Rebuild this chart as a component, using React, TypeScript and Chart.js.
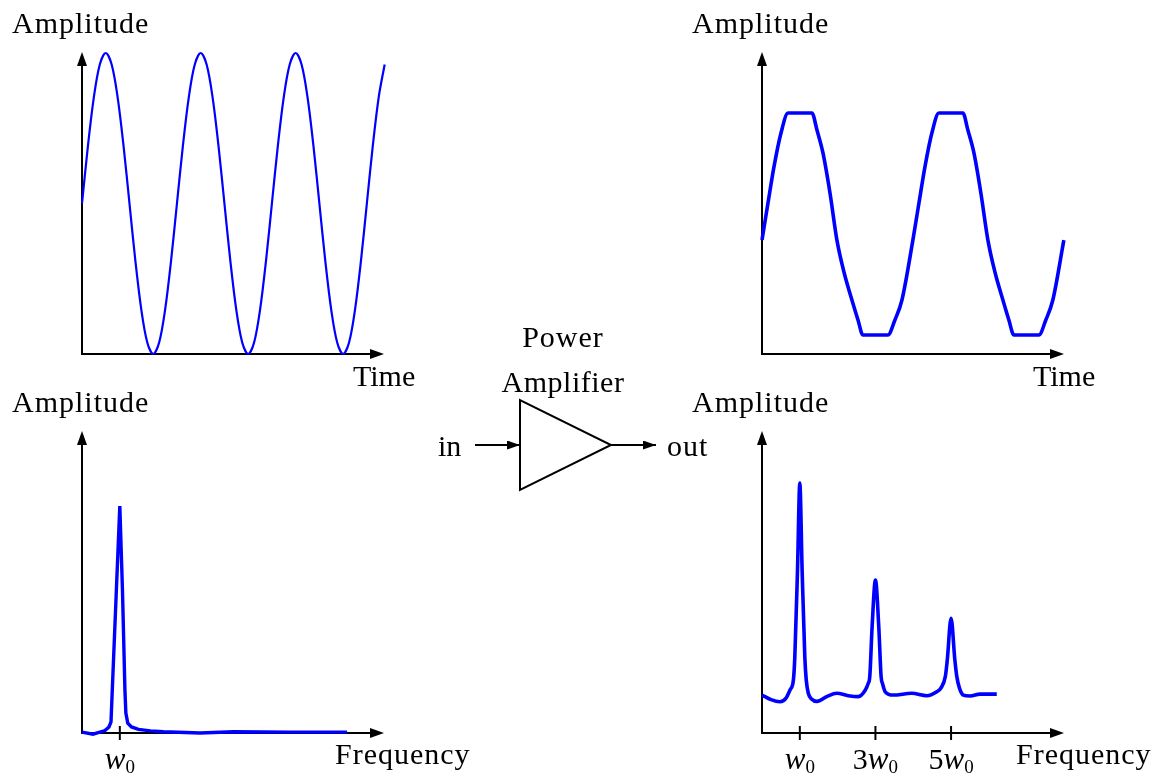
import { useEffect, useRef } from "react";
import { Chart, registerables } from "chart.js";
import type { Plugin } from "chart.js";

Chart.register(...registerables);

const SERIF = '"Liberation Serif", "Times New Roman", serif';
const TRACE = "#0000ff";
const INK = "#000000";

// Input tone: time in periods of the tone, amplitude normalised to ±1
const IN_TIME = [
  0, 0.0625, 0.125, 0.1875, 0.25, 0.3125, 0.375, 0.4375, 0.5, 0.5625, 0.625, 0.6875, 0.75, 0.8125, 0.875, 0.9375,
  1, 1.0625, 1.125, 1.1875, 1.25, 1.3125, 1.375, 1.4375, 1.5, 1.5625, 1.625, 1.6875, 1.75, 1.8125, 1.875, 1.9375,
  2, 2.0625, 2.125, 2.1875, 2.25, 2.3125, 2.375, 2.4375, 2.5, 2.5625, 2.625, 2.6875, 2.75, 2.8125, 2.875, 2.9375,
  3, 3.0625, 3.125, 3.1875,
];
const IN_AMP = [
  0, 0.383, 0.707, 0.924, 1, 0.924, 0.707, 0.383, 0, -0.383, -0.707, -0.924, -1, -0.924, -0.707, -0.383,
  0, 0.383, 0.707, 0.924, 1, 0.924, 0.707, 0.383, 0, -0.383, -0.707, -0.924, -1, -0.924, -0.707, -0.383,
  0, 0.383, 0.707, 0.924, 1, 0.924, 0.707, 0.383, 0, -0.383, -0.707, -0.924, -1, -0.924, -0.707, -0.383,
  0, 0.383, 0.707, 0.924,
];

// Amplifier output: the tone with its crests and troughs clipped flat
const OUT_TIME = [
  0, 0.063, 0.126, 0.2, 0.274, 0.526, 0.579, 0.642, 0.716, 0.789, 0.863, 0.947, 1.011, 1.063, 1.326, 1.4, 1.474, 1.589,
  1.653, 1.716, 1.789, 1.863, 2.116, 2.168, 2.232, 2.305, 2.379, 2.453, 2.537, 2.6, 2.653, 2.916, 2.989, 3.063, 3.179,
];
const OUT_AMP = [
  -0.243, 0.003, 0.243, 0.468, 0.601, 0.601, 0.488, 0.336, 0.07, -0.243, -0.455, -0.641, -0.774, -0.874, -0.874, -0.774, -0.641, -0.243,
  0.003, 0.243, 0.468, 0.601, 0.601, 0.488, 0.336, 0.07, -0.243, -0.455, -0.641, -0.774, -0.874, -0.874, -0.774, -0.641, -0.243,
];

// Input spectrum: frequency in multiples of w0, relative magnitude
const IN_FREQ = [0, 0.29, 0.608, 0.714, 0.767, 0.801, 0.909, 1.0, 1.07, 1.135, 1.16, 1.21, 1.309, 1.494, 1.812, 2.156, 3.12, 4.0, 5.5, 7.01];
const IN_SPEC = [0.003, -0.004, 0.008, 0.02, 0.037, 0.143, 0.475, 0.754, 0.475, 0.143, 0.066, 0.033, 0.02, 0.012, 0.007, 0.004, 0.0, 0.004, 0.003, 0.003];

// Output spectrum: fundamental plus odd harmonics over a rippled floor
const OUT_FREQ = [
  0, 0.238, 0.476, 0.635, 0.741, 0.83, 0.868, 0.939, 1.0, 1.061, 1.132, 1.17, 1.225, 1.31, 1.455,
  1.712, 1.976, 2.283, 2.548, 2.725, 2.81, 2.85, 2.912, 3.0, 3.088, 3.15, 3.19, 3.26, 3.474, 3.96,
  4.357, 4.622, 4.735, 4.85, 4.9, 5.0, 5.1, 5.15, 5.22, 5.325, 5.503, 5.767, 6.209,
];
const OUT_SPEC = [
  0.126, 0.111, 0.104, 0.116, 0.143, 0.176, 0.253, 0.542, 0.83, 0.542, 0.253, 0.176, 0.132, 0.113, 0.105,
  0.121, 0.132, 0.124, 0.121, 0.141, 0.165, 0.187, 0.353, 0.508, 0.353, 0.187, 0.163, 0.137, 0.126, 0.132,
  0.124, 0.137, 0.15, 0.189, 0.243, 0.381, 0.243, 0.189, 0.15, 0.126, 0.123, 0.129, 0.129,
];

// Harmonic markers on the frequency axes (multiple of w0, printed coefficient)
const IN_HARMONICS = [1];
const IN_HARMONIC_COEF = [""];
const OUT_HARMONICS = [1, 3, 5];
const OUT_HARMONIC_COEF = ["", "3", "5"];

const TIME_SPAN = 3.17;
const FREQ_SPAN = 7.96;

type Curve = "spline" | "monotone" | "linear";

type PanelSpec = {
  key: string;
  box: { left: number; top: number; width: number; height: number };
  pad: { left: number; top: number; right: number; bottom: number };
  xs: number[];
  ys: number[];
  xMax: number;
  yMin: number;
  yMax: number;
  lineWidth: number;
  curve: Curve;
  xTitle: string;
  xTitleDx: number;
  xTitleDy: number;
  xTitleSpacing: number;
  ticks: number[];
  tickCoef: string[];
};

const PANELS: PanelSpec[] = [
  {
    key: "input-time",
    box: { left: 0, top: 0, width: 470, height: 395 },
    pad: { left: 82, top: 53, right: 87, bottom: 41 },
    xs: IN_TIME, ys: IN_AMP, xMax: TIME_SPAN, yMin: -1, yMax: 1,
    lineWidth: 2.2, curve: "spline",
    xTitle: "Time", xTitleDx: -30, xTitleDy: 32, xTitleSpacing: 0,
    ticks: [], tickCoef: [],
  },
  {
    key: "output-time",
    box: { left: 680, top: 0, width: 479, height: 395 },
    pad: { left: 82, top: 53, right: 96, bottom: 41 },
    xs: OUT_TIME, ys: OUT_AMP, xMax: TIME_SPAN, yMin: -1, yMax: 1,
    lineWidth: 3.6, curve: "monotone",
    xTitle: "Time", xTitleDx: -30, xTitleDy: 32, xTitleSpacing: 0,
    ticks: [], tickCoef: [],
  },
  {
    key: "input-spectrum",
    box: { left: 0, top: 385, width: 480, height: 391 },
    pad: { left: 82, top: 47, right: 97, bottom: 43 },
    xs: IN_FREQ, ys: IN_SPEC, xMax: FREQ_SPAN, yMin: 0, yMax: 1,
    lineWidth: 3.4, curve: "linear",
    xTitle: "Frequency", xTitleDx: -48, xTitleDy: 31, xTitleSpacing: 1,
    ticks: IN_HARMONICS, tickCoef: IN_HARMONIC_COEF,
  },
  {
    key: "output-spectrum",
    box: { left: 680, top: 385, width: 479, height: 391 },
    pad: { left: 82, top: 47, right: 96, bottom: 43 },
    xs: OUT_FREQ, ys: OUT_SPEC, xMax: FREQ_SPAN, yMin: 0, yMax: 1,
    lineWidth: 3.6, curve: "monotone",
    xTitle: "Frequency", xTitleDx: -47, xTitleDy: 31, xTitleSpacing: 1,
    ticks: OUT_HARMONICS, tickCoef: OUT_HARMONIC_COEF,
  },
];

// Prints "<coef>w₀" with an italic w and a lowered, smaller 0, centred on cx
function drawHarmonicLabel(ctx: CanvasRenderingContext2D, cx: number, baseline: number, coef: string) {
  const upright = `30px ${SERIF}`;
  const italic = `italic 31px ${SERIF}`;
  const sub = `19px ${SERIF}`;
  ctx.font = upright;
  const wc = coef ? ctx.measureText(coef).width : 0;
  ctx.font = italic;
  const ww = ctx.measureText("w").width;
  ctx.font = sub;
  const ws = ctx.measureText("0").width;
  let x = cx - (wc + ww + ws) / 2;
  ctx.textAlign = "left";
  ctx.textBaseline = "alphabetic";
  if (coef) {
    ctx.font = upright;
    ctx.fillText(coef, x, baseline);
    x += wc;
  }
  ctx.font = italic;
  ctx.fillText("w", x, baseline);
  x += ww;
  ctx.font = sub;
  ctx.fillText("0", x, baseline + 4);
}

function axisDecor(spec: PanelSpec): Plugin<"line"> {
  return {
    id: "axisDecor",
    beforeDatasetsDraw(chart) {
      const { ctx, scales } = chart;
      const ox = scales.x.getPixelForValue(0);
      const oy = scales.y.getPixelForValue(spec.yMin);
      const tipX = scales.x.getPixelForValue(spec.xMax);
      const tipY = scales.y.getPixelForValue(spec.yMax);
      ctx.save();
      ctx.strokeStyle = INK;
      ctx.fillStyle = INK;
      ctx.lineWidth = 2;
      // vertical axis with arrow head
      ctx.beginPath();
      ctx.moveTo(ox, oy + 1);
      ctx.lineTo(ox, tipY + 8);
      ctx.stroke();
      ctx.beginPath();
      ctx.moveTo(ox, tipY - 1);
      ctx.lineTo(ox - 5, tipY + 13);
      ctx.lineTo(ox + 5, tipY + 13);
      ctx.closePath();
      ctx.fill();
      // horizontal axis with arrow head
      ctx.beginPath();
      ctx.moveTo(ox - 1, oy);
      ctx.lineTo(tipX - 8, oy);
      ctx.stroke();
      ctx.beginPath();
      ctx.moveTo(tipX + 1, oy);
      ctx.lineTo(tipX - 13, oy - 5);
      ctx.lineTo(tipX - 13, oy + 5);
      ctx.closePath();
      ctx.fill();
      ctx.restore();
    },
    afterDatasetsDraw(chart) {
      const { ctx, scales, chartArea } = chart;
      const oy = scales.y.getPixelForValue(spec.yMin);
      ctx.save();
      ctx.strokeStyle = INK;
      ctx.fillStyle = INK;
      ctx.lineWidth = 2;
      spec.ticks.forEach((f, i) => {
        const px = scales.x.getPixelForValue(f);
        ctx.beginPath();
        ctx.moveTo(px, oy - 7);
        ctx.lineTo(px, oy + 7);
        ctx.stroke();
        drawHarmonicLabel(ctx, px, oy + 36, spec.tickCoef[i]);
      });
      ctx.textAlign = "left";
      ctx.textBaseline = "alphabetic";
      ctx.font = `30px ${SERIF}`;
      (ctx as any).letterSpacing = "1px";
      ctx.fillText("Amplitude", chartArea.left - 70, chartArea.top - 20);
      (ctx as any).letterSpacing = `${spec.xTitleSpacing}px`;
      ctx.fillText(spec.xTitle, chartArea.right + spec.xTitleDx, chartArea.bottom + spec.xTitleDy);
      (ctx as any).letterSpacing = "0px";
      ctx.restore();
    },
  };
}

function ChartPanel({ spec }: { spec: PanelSpec }) {
  const ref = useRef<HTMLCanvasElement>(null);
  useEffect(() => {
    const canvas = ref.current;
    if (!canvas) return;
    const chart = new Chart(canvas, {
      type: "line",
      data: {
        datasets: [
          {
            data: spec.xs.map((x, i) => ({ x, y: spec.ys[i] })),
            borderColor: TRACE,
            borderWidth: spec.lineWidth,
            pointRadius: 0,
            fill: false,
            tension: spec.curve === "spline" ? 0.333 : 0,
            cubicInterpolationMode: spec.curve === "monotone" ? "monotone" : "default",
            clip: false as any,
          },
        ],
      },
      options: {
        animation: false,
        responsive: false,
        events: [],
        layout: { padding: spec.pad },
        plugins: { legend: { display: false }, tooltip: { enabled: false } },
        scales: {
          x: { type: "linear", min: 0, max: spec.xMax, display: false },
          y: { type: "linear", min: spec.yMin, max: spec.yMax, display: false },
        },
      },
      plugins: [axisDecor(spec)],
    });
    return () => chart.destroy();
  }, [spec]);
  const { left, top, width, height } = spec.box;
  return (
    <canvas
      ref={ref}
      width={width}
      height={height}
      style={{ position: "absolute", left, top, width, height }}
    />
  );
}

function AmplifierSymbol() {
  const text = { fontFamily: SERIF, fontSize: 30, fill: INK };
  return (
    <svg
      width={1159}
      height={776}
      style={{ position: "absolute", left: 0, top: 0, pointerEvents: "none" }}
    >
      <defs>
        <marker
          id="amp-tip"
          viewBox="0 0 13 9"
          refX={13}
          refY={4.5}
          markerWidth={13}
          markerHeight={9}
          markerUnits="userSpaceOnUse"
          orient="auto"
        >
          <path d="M0,0 L13,4.5 L0,9 z" fill={INK} />
        </marker>
      </defs>
      <polygon points="520,400 520,490 611,445" fill="none" stroke={INK} strokeWidth={2} />
      <line x1={475} y1={445} x2={520} y2={445} stroke={INK} strokeWidth={2} markerEnd="url(#amp-tip)" />
      <line x1={611} y1={445} x2={656} y2={445} stroke={INK} strokeWidth={2} markerEnd="url(#amp-tip)" />
      <text x={438} y={456} {...text}>in</text>
      <text x={667} y={456} {...text} letterSpacing={1}>out</text>
      <text x={563} y={347} {...text} textAnchor="middle" letterSpacing={1}>Power</text>
      <text x={563} y={392} {...text} textAnchor="middle" letterSpacing={0.5}>Amplifier</text>
    </svg>
  );
}

export default function App() {
  return (
    <div
      style={{
        position: "absolute",
        left: 0,
        top: 0,
        width: 1159,
        height: 776,
        overflow: "hidden",
        background: "#ffffff",
      }}
    >
      {PANELS.map((p) => (
        <ChartPanel key={p.key} spec={p} />
      ))}
      <AmplifierSymbol />
    </div>
  );
}
